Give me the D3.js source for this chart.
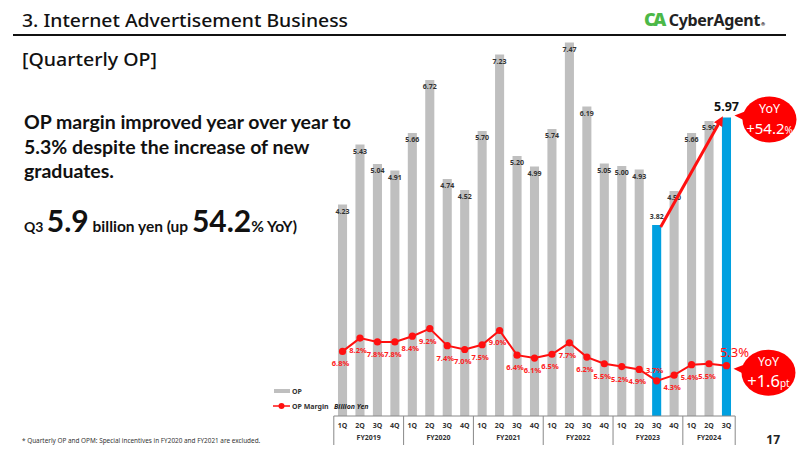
<!DOCTYPE html>
<html lang="en">
<head>
<meta charset="UTF-8">
<script src="https://cdn.jsdelivr.net/npm/d3@7/dist/d3.min.js"></script>
<style>
  body { margin: 0; background: #fff; }
  svg { font-family: Lato, "Noto Sans", sans-serif; }
  .bar { fill: #bfbfbf; }
  .bar.hi { fill: #00a0e0; }
  .oplab { font-family: "Noto Sans", sans-serif; font-size: 7px; font-weight: 700; fill: #333; }
  .mlab { font-family: "Noto Sans", sans-serif; font-size: 7.5px; font-weight: 700; fill: #ff2020; }
  .tick { font-family: "Noto Sans", sans-serif; font-size: 7px; font-weight: 700; fill: #333; }
  .ns { font-family: "Noto Sans", sans-serif; }
</style>
</head>
<body>
<svg width="800" height="450"></svg>
<script>
// quarters and fiscal years
var quarters = ["1Q","2Q","3Q","4Q","1Q","2Q","3Q","4Q","1Q","2Q","3Q","4Q","1Q","2Q","3Q","4Q","1Q","2Q","3Q","4Q","1Q","2Q","3Q"];
var fiscalYears = ["FY2019","FY2020","FY2021","FY2022","FY2023","FY2024"];
var quartersPerYear = [4,4,4,4,4,3];
// operating profit, billion yen
var opValues = [4.23,5.43,5.04,4.91,5.66,6.72,4.74,4.52,5.70,7.23,5.20,4.99,5.74,7.47,6.19,5.05,5.00,4.93,3.82,4.50,5.66,5.90,5.97];
// OP margin, %
var marginValues = [6.8,8.2,7.8,7.8,8.4,9.2,7.4,7.0,7.5,9.0,6.4,6.1,6.5,7.7,6.2,5.5,5.2,4.9,3.7,4.3,5.4,5.5,5.3];
var highlighted = [18, 22];

var svg = d3.select("svg");
var idx = d3.range(opValues.length);

var x = d3.scaleBand().domain(idx).range([333.8, 735.2]).paddingInner(0.48).paddingOuter(0.24);
var yOP = d3.scaleLinear().domain([0, 8]).range([416, 16]);
var yM = d3.scaleLinear().domain([0, 42.1]).range([416, 16]);
var cx = function(i){ return x(i) + x.bandwidth()/2; };
var last = opValues.length - 1;

// header
svg.append("text").attr("class", "ns").attr("x", 22).attr("y", 27).attr("font-size", 17.5).attr("font-weight", 500)
  .attr("textLength", 326).attr("lengthAdjust", "spacingAndGlyphs")
  .attr("fill", "#111").text("3.  Internet Advertisement Business");
svg.append("line").attr("x1", 13).attr("x2", 786).attr("y1", 35).attr("y2", 35)
  .attr("stroke", "#111").attr("stroke-width", 2);
var logo = svg.append("text").attr("class", "ns").attr("x", 644).attr("y", 26).attr("font-weight", 900);
logo.append("tspan").attr("font-size", 18).attr("fill", "#4cb848").attr("letter-spacing", -2.5).text("CA");
logo.append("tspan").attr("font-size", 16).attr("fill", "#222").attr("dx", 5).attr("font-weight", 700)
  .attr("letter-spacing", -0.3).text("CyberAgent");
logo.append("tspan").attr("font-size", 5).attr("fill", "#444").attr("dx", 1).text("®");

svg.append("text").attr("class", "ns").attr("x", 22).attr("y", 66).attr("font-size", 18.5).attr("font-weight", 500)
  .attr("textLength", 135).attr("lengthAdjust", "spacingAndGlyphs")
  .attr("fill", "#111").text("[Quarterly OP]");

var head = ["OP margin improved year over year to", "5.3% despite the increase of new", "graduates."];
svg.selectAll(".head").data(head).enter().append("text")
  .attr("x", 24).attr("y", function(d, i){ return 129 + i*24.5; })
  .attr("font-size", 19.5).attr("font-weight", 700).attr("fill", "#111").text(function(d){ return d; });

var sub = svg.append("text").attr("x", 24).attr("y", 232).attr("fill", "#111").attr("font-weight", 700);
sub.append("tspan").attr("font-size", 14).text("Q3 ");
sub.append("tspan").attr("font-size", 30).text("5.9");
sub.append("tspan").attr("font-size", 15.5).text(" billion yen (up ");
sub.append("tspan").attr("font-size", 30).text("54.2");
sub.append("tspan").attr("font-size", 15.5).text("% YoY)");

// bars
svg.selectAll(".bar").data(opValues).enter().append("rect")
  .attr("class", function(d, i){ return highlighted.indexOf(i) >= 0 ? "bar hi" : "bar"; })
  .attr("x", function(d, i){ return x(i); })
  .attr("width", x.bandwidth())
  .attr("y", function(d){ return yOP(d); })
  .attr("height", function(d){ return yOP(0) - yOP(d); });

svg.selectAll(".oplab").data(opValues).enter().filter(function(d, i){ return i !== last; })
  .append("text").attr("class", "oplab").attr("text-anchor", "middle")
  .attr("x", function(d, i){ return cx(i); })
  .attr("y", function(d, i){ return i === 18 ? yOP(d) - 6 : yOP(d) + 9; })
  .text(function(d){ return d.toFixed(2); });
svg.append("text").attr("class", "ns").attr("text-anchor", "middle").attr("x", cx(last)).attr("y", yOP(opValues[last]) - 6.5)
  .attr("font-size", 12.5).attr("font-weight", 700).attr("fill", "#111").text(opValues[last].toFixed(2));

// margin line
var line = d3.line().x(function(d, i){ return cx(i); }).y(function(d){ return yM(d); });
svg.append("path").datum(marginValues).attr("d", line).attr("fill", "none")
  .attr("stroke", "#ff1010").attr("stroke-width", 2);
svg.selectAll(".dot").data(marginValues).enter().append("circle")
  .attr("cx", function(d, i){ return cx(i); }).attr("cy", function(d){ return yM(d); })
  .attr("r", 3.6).attr("fill", "#ff1010");

svg.selectAll(".mlab").data(marginValues).enter().filter(function(d, i){ return i !== last; })
  .append("text").attr("class", "mlab").attr("text-anchor", "middle")
  .attr("x", function(d, i){ return cx(i) - 2; })
  .attr("y", function(d, i){ return i === 18 ? yM(d) - 8 : yM(d) + 15; })
  .text(function(d){ return d.toFixed(1) + "%"; });
svg.append("text").attr("class", "ns").attr("text-anchor", "middle").attr("x", cx(last) + 8).attr("y", yM(marginValues[last]) - 9)
  .attr("font-size", 13).attr("fill", "#ff1010").text(marginValues[last].toFixed(1) + "%");

// arrow
svg.append("defs").append("marker").attr("id", "ah").attr("viewBox", "0 0 10 10")
  .attr("refX", 5).attr("refY", 5).attr("markerWidth", 3.2).attr("markerHeight", 3.2).attr("orient", "auto")
  .append("path").attr("d", "M0,0L10,5L0,10z").attr("fill", "#ff1010");
svg.append("line")
  .attr("x1", cx(18) + 4).attr("y1", yOP(opValues[18]) + 2)
  .attr("x2", cx(last) - 6).attr("y2", yOP(opValues[last]) + 3)
  .attr("stroke", "#ff1010").attr("stroke-width", 3).attr("marker-end", "url(#ah)");

// bubbles
function bubble(bx, by, big, small, bigSize) {
  var g = svg.append("g").attr("class", "ns").attr("transform", "translate(" + bx + "," + by + ")");
  g.append("path").attr("d", "M-22,-9L-35,-4L-21,3z").attr("fill", "#f00");
  g.append("ellipse").attr("rx", 27).attr("ry", 23).attr("fill", "#f00");
  g.append("text").attr("text-anchor", "middle").attr("y", -7).attr("font-size", 12.5)
    .attr("fill", "#fff").text("YoY");
  var t = g.append("text").attr("text-anchor", "middle").attr("y", 14).attr("fill", "#fff");
  t.append("tspan").attr("font-size", bigSize).text(big);
  t.append("tspan").attr("font-size", 10).text(small);
}
bubble(cx(last) + 43, yOP(opValues[last]) + 2, "+54.2", "%", 15);
bubble(cx(last) + 42, yM(marginValues[last]) + 7, "+1.6", "pt", 16.5);

// category table
var tbTop = 416, tbBot = 445;
var step = x.step();
var starts = [0];
quartersPerYear.forEach(function(n, i){ starts.push(starts[i] + n); });
svg.append("line").attr("x1", x(0) - step*0.24).attr("x2", x(last) + x.bandwidth() + step*0.24)
  .attr("y1", tbTop).attr("y2", tbTop).attr("stroke", "#888").attr("stroke-width", 1);
svg.selectAll(".div").data(starts).enter().append("line")
  .attr("x1", function(d){ return d > last ? x(last) + x.bandwidth() + step*0.24 : x(d) - step*0.24; })
  .attr("x2", function(d){ return d > last ? x(last) + x.bandwidth() + step*0.24 : x(d) - step*0.24; })
  .attr("y1", tbTop).attr("y2", tbBot).attr("stroke", "#888").attr("stroke-width", 1);
svg.selectAll(".q").data(quarters).enter().append("text").attr("class", "tick")
  .attr("text-anchor", "middle").attr("x", function(d, i){ return cx(i); }).attr("y", 428).text(function(d){ return d; });
svg.selectAll(".fy").data(fiscalYears).enter().append("text").attr("class", "tick")
  .attr("text-anchor", "middle")
  .attr("x", function(d, i){ return (cx(starts[i]) + cx(starts[i+1] - 1)) / 2; })
  .attr("y", 440).text(function(d){ return d; });

// legend
svg.append("rect").attr("x", 274).attr("y", 389).attr("width", 16).attr("height", 4).attr("fill", "#bfbfbf");
svg.append("text").attr("x", 292).attr("y", 394).attr("class", "tick").attr("fill", "#222").text("OP");
svg.append("line").attr("x1", 273).attr("x2", 290).attr("y1", 406).attr("y2", 406).attr("stroke", "#ff1010").attr("stroke-width", 1.5);
svg.append("circle").attr("cx", 281.5).attr("cy", 406).attr("r", 3).attr("fill", "#ff1010");
svg.append("text").attr("x", 292).attr("y", 408.5).attr("class", "tick").attr("fill", "#222").text("OP Margin");
svg.append("text").attr("class", "ns").attr("x", 334).attr("y", 408.5).attr("font-size", 7).attr("font-weight", 700)
  .attr("font-style", "italic").attr("fill", "#222").text("Billion Yen");

// footnote and page number
svg.append("text").attr("class", "ns").attr("x", 22).attr("y", 443).attr("font-size", 6.4).attr("fill", "#333")
  .text("*  Quarterly OP and OPM: Special incentives in FY2020 and FY2021 are excluded.");
svg.append("text").attr("class", "ns").attr("x", 780).attr("y", 444).attr("text-anchor", "end").attr("font-size", 12)
  .attr("font-weight", 700).attr("fill", "#222").text("17");
</script>
</body>
</html>
